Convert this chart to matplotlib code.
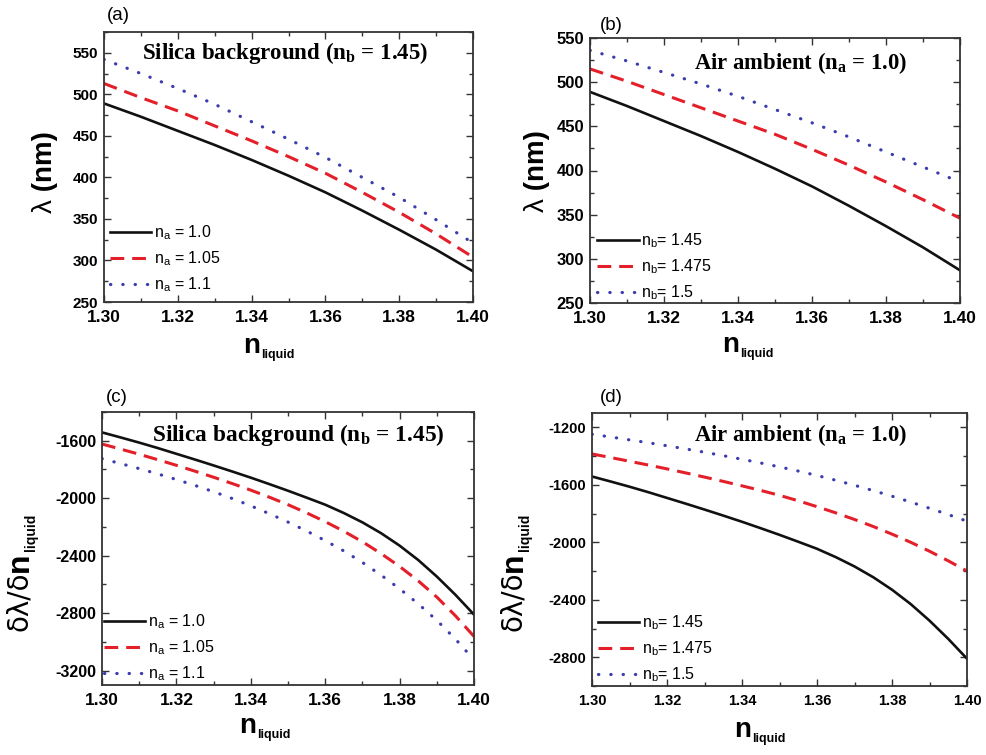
import matplotlib
matplotlib.use("Agg")
import matplotlib.pyplot as plt
from matplotlib.ticker import MultipleLocator, FormatStrFormatter
from matplotlib.text import Annotation

plt.rcParams["font.family"] = ["Liberation Sans", "DejaVu Sans"]
plt.rcParams["axes.unicode_minus"] = False
plt.rcParams["mathtext.fontset"] = "custom"
plt.rcParams["mathtext.rm"] = "Liberation Sans"
plt.rcParams["mathtext.bf"] = "Liberation Sans:bold"
plt.rcParams["mathtext.sf"] = "Liberation Serif:bold"

# ---------------- data ----------------
n_liquid = [1.30, 1.31, 1.32, 1.33, 1.34, 1.35, 1.36, 1.37, 1.38, 1.39, 1.40]
n_liquid_fine = [1.300, 1.305, 1.310, 1.315, 1.320, 1.325, 1.330, 1.335, 1.340, 1.345, 1.350,
                 1.355, 1.360, 1.365, 1.370, 1.375, 1.380, 1.385, 1.390, 1.395, 1.400]

# resonance wavelength (nm), silica background n_b = 1.45
lam_na_100 = [489, 473, 456, 439, 421, 402, 382, 360, 337, 313, 287]
lam_na_105 = [513, 496, 480, 462, 444, 425, 405, 382, 358, 332, 304]
lam_na_110 = [542, 525, 507, 488, 467, 446, 424, 400, 376, 349, 321]

# resonance wavelength (nm), air ambient n_a = 1.0
lam_nb_1450 = lam_na_100
lam_nb_1475 = [515, 501, 486, 471, 456, 441, 424, 406, 387, 367, 346]
lam_nb_1500 = [536, 524, 511, 498, 484, 469, 454, 438, 421, 404, 387]

# sensitivity d(lambda)/d(n_liquid), silica background n_b = 1.45
sens_na_100 = [-1542, -1577, -1613, -1651, -1691, -1731, -1772, -1814, -1857, -1902, -1948,
               -1996, -2045, -2103, -2168, -2243, -2330, -2430, -2545, -2672, -2810]
sens_na_105 = [-1623, -1658, -1694, -1732, -1771, -1812, -1854, -1898, -1944, -1993, -2045,
               -2102, -2163, -2230, -2303, -2385, -2475, -2575, -2688, -2818, -2962]
sens_na_110 = [-1725, -1759, -1794, -1831, -1870, -1911, -1955, -2002, -2053, -2108, -2166,
               -2228, -2295, -2367, -2447, -2535, -2630, -2735, -2850, -2980, -3125]

# sensitivity d(lambda)/d(n_liquid), air ambient n_a = 1.0
sens_nb_1450 = sens_na_100
sens_nb_1475 = [-1385, -1410, -1436, -1462, -1489, -1517, -1546, -1576, -1607, -1639, -1673,
                -1711, -1752, -1795, -1841, -1890, -1943, -2000, -2062, -2129, -2200]
sens_nb_1500 = [-1248, -1267, -1287, -1307, -1328, -1350, -1373, -1397, -1422, -1448, -1475,
                -1504, -1535, -1568, -1603, -1640, -1679, -1720, -1763, -1807, -1853]

labels_na = ["n$_\\mathregular{a}$ = 1.0", "n$_\\mathregular{a}$ = 1.05", "n$_\\mathregular{a}$ = 1.1"]
labels_nb = ["n$_\\mathregular{b}$= 1.45", "n$_\\mathregular{b}$= 1.475", "n$_\\mathregular{b}$= 1.5"]

BLACK = "#111111"
RED = "#e3202a"
BLUE = "#3c3cae"

W, H = 987, 755
fig = plt.figure(figsize=(W / 100, H / 100), dpi=100)


def axes_px(left, right, top, bottom):
    return fig.add_axes([left / W, 1 - bottom / H, (right - left) / W, (bottom - top) / H])


def fx(px):
    return px / W


def fy(py):
    return 1 - py / H


def draw_lines(ax, x, ys, labels):
    ax.plot(x, ys[0], color=BLACK, lw=1.9, label=labels[0])
    ax.plot(x, ys[1], color=RED, lw=2.2, linestyle=(0, (4.5, 2.6)), label=labels[1])
    ax.plot(x, ys[2], color=BLUE, lw=2.3, linestyle=(0, (0.1, 3.75)),
            dash_capstyle="round", label=labels[2])


def style_axes(ax, ylim, ymaj, ymin, xfs, yfs):
    ax.set_xlim(1.30, 1.40)
    ax.set_ylim(*ylim)
    ax.xaxis.set_major_locator(MultipleLocator(0.02))
    ax.xaxis.set_minor_locator(MultipleLocator(0.01))
    ax.yaxis.set_major_locator(MultipleLocator(ymaj))
    ax.yaxis.set_minor_locator(MultipleLocator(ymin))
    ax.xaxis.set_major_formatter(FormatStrFormatter("%.2f"))
    ax.tick_params(which="both", direction="in", top=True, right=True, width=1.0, color="#333333")
    ax.tick_params(which="major", length=5)
    ax.tick_params(which="minor", length=3)
    ax.tick_params(axis="x", which="major", labelsize=xfs, pad=6)
    ax.tick_params(axis="y", which="major", labelsize=yfs, pad=4)
    for s in ax.spines.values():
        s.set_linewidth(1.3)
        s.set_color("#333333")


def xlabel_px(px, py, big=20, small=9):
    t = fig.text(fx(px), fy(py), "n", fontsize=big, fontweight="bold", ha="left", va="baseline")
    fig.add_artist(Annotation("liquid", xy=(1, 0), xycoords=t, xytext=(1, -1.5),
                              textcoords="offset points", fontsize=small, fontweight="bold",
                              ha="left", va="bottom"))


def lambda_label(px, py):
    t = fig.text(fx(px), fy(py), "λ", fontsize=20, ha="center", va="bottom", rotation=90)
    fig.add_artist(Annotation(" (nm)", xy=(0.5, 1), xycoords=t, xytext=(0, 0),
                              textcoords="offset points", fontsize=20, fontweight="bold",
                              ha="center", va="bottom", rotation=90))


def sens_label(px, py):
    t = fig.text(fx(px), fy(py), "δλ/δ", fontsize=20, family="DejaVu Sans",
                 ha="center", va="bottom", rotation=90)
    t2 = Annotation("n", xy=(1, 1), xycoords=t, xytext=(1.0, 0), textcoords="offset points",
                    fontsize=23, fontweight="bold", ha="right", va="bottom", rotation=90)
    fig.add_artist(t2)
    fig.add_artist(Annotation("liquid", xy=(1, 1), xycoords=t2, xytext=(2.5, 1),
                              textcoords="offset points", fontsize=10, fontweight="bold",
                              ha="right", va="bottom", rotation=90))


def note(px, py, head, sub, tail, fs):
    fig.text(fx(px), fy(py), head + "$_\\mathsf{" + sub + "}$" + tail, fontsize=fs,
             fontweight="bold", family="Liberation Serif", ha="center", va="center")


def legend(ax, x, y):
    ax.legend(loc="upper left", bbox_to_anchor=(x, y), frameon=False, fontsize=11.5,
              handlelength=2.6, handletextpad=0.15, labelspacing=0.45,
              borderaxespad=0, borderpad=0)


# ---------------- (a) ----------------
axA = axes_px(104, 473, 32, 302)
draw_lines(axA, n_liquid, [lam_na_100, lam_na_105, lam_na_110], labels_na)
style_axes(axA, (250, 575), 50, 25, 12.5, 11)
legend(axA, 0.016, 0.29)
note(285, 53, "Silica background (n", "b", " = 1.45)", 16.5)
fig.text(fx(118), fy(15), "(a)", fontsize=13.5, ha="center", va="center")
lambda_label(45, 213)
xlabel_px(243, 353)

# ---------------- (b) ----------------
axB = axes_px(590, 960, 38, 303)
draw_lines(axB, n_liquid, [lam_nb_1450, lam_nb_1475, lam_nb_1500], labels_nb)
style_axes(axB, (250, 550), 50, 25, 12.5, 12)
legend(axB, 0.02, 0.27)
note(801, 63, "Air ambient (n", "a", " = 1.0)", 16.3)
fig.text(fx(611), fy(26), "(b)", fontsize=13.5, ha="center", va="center")
lambda_label(537, 212)
xlabel_px(722, 352)

# ---------------- (c) ----------------
axC = axes_px(102, 474, 412, 685)
draw_lines(axC, n_liquid_fine, [sens_na_100, sens_na_105, sens_na_110], labels_na)
style_axes(axC, (-3300, -1400), 400, 200, 12.5, 11.5)
legend(axC, 0.005, 0.265)
note(298, 435, "Silica background (n", "b", " = 1.45)", 16.8)
fig.text(fx(117), fy(397), "(c)", fontsize=13.5, ha="center", va="center")
sens_label(19, 631)
xlabel_px(239, 733)

# ---------------- (d) ----------------
axD = axes_px(592, 967, 413, 686)
draw_lines(axD, n_liquid_fine, [sens_nb_1450, sens_nb_1475, sens_nb_1500], labels_nb)
style_axes(axD, (-3000, -1100), 400, 200, 10.5, 10.5)
legend(axD, 0.015, 0.265)
note(801, 435, "Air ambient (n", "a", " = 1.0)", 16.3)
fig.text(fx(611), fy(397), "(d)", fontsize=13.5, ha="center", va="center")
sens_label(513, 631)
xlabel_px(734, 737)

# bold tick labels on every axis
fig.canvas.draw()
for ax in (axA, axB, axC, axD):
    for lab in ax.get_xticklabels() + ax.get_yticklabels():
        lab.set_fontweight("bold")

fig.savefig("out.png", dpi=100)
